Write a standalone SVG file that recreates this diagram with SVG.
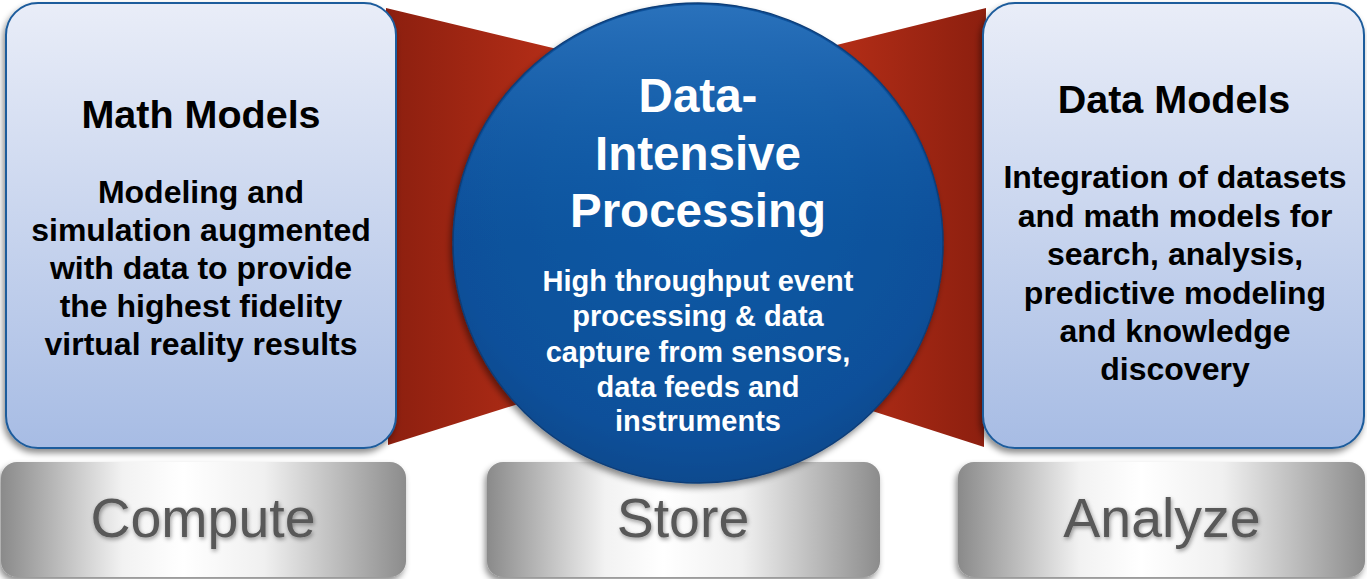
<svg xmlns="http://www.w3.org/2000/svg" width="1367" height="579" viewBox="0 0 1367 579">
<defs>
<linearGradient id="boxFill" x1="0" y1="0" x2="0" y2="1">
<stop offset="0" stop-color="#e9edf8"/>
<stop offset="1" stop-color="#a7bce4"/>
</linearGradient>
<linearGradient id="redL" x1="0" y1="0" x2="1" y2="0">
<stop offset="0" stop-color="#8c1f0f"/>
<stop offset="1" stop-color="#c3331a"/>
</linearGradient>
<linearGradient id="redR" x1="1" y1="0" x2="0" y2="0">
<stop offset="0" stop-color="#8c1f0f"/>
<stop offset="1" stop-color="#c3331a"/>
</linearGradient>
<linearGradient id="metal" x1="0" y1="0" x2="1" y2="0">
<stop offset="0" stop-color="#8a8a8a"/>
<stop offset="0.3" stop-color="#f2f2f2"/>
<stop offset="0.45" stop-color="#ffffff"/>
<stop offset="0.65" stop-color="#f0f0f0"/>
<stop offset="1" stop-color="#8c8c8c"/>
</linearGradient>
<radialGradient id="blue" cx="0.5" cy="0.4" r="0.6">
<stop offset="0" stop-color="#0b5aa6"/>
<stop offset="0.85" stop-color="#08509a"/>
<stop offset="1" stop-color="#0a4a8e"/>
</radialGradient>
<linearGradient id="rim" x1="0" y1="0" x2="0" y2="1">
<stop offset="0" stop-color="#3d86d0"/>
<stop offset="0.5" stop-color="#1563b0" stop-opacity="0"/>
</linearGradient>
<filter id="shadow" x="-10%" y="-10%" width="120%" height="120%">
<feDropShadow dx="-2" dy="4" stdDeviation="3" flood-color="#000" flood-opacity="0.45"/>
</filter>
<filter id="tshadow" x="-10%" y="-20%" width="120%" height="140%">
<feDropShadow dx="1" dy="2" stdDeviation="2" flood-color="#000" flood-opacity="0.4"/>
</filter>
</defs>
<style>
.box{fill:url(#boxFill);stroke:#1d5c9c;stroke-width:2;filter:url(#shadow)}
.title{font-family:"Liberation Sans",Arial,sans-serif;font-weight:bold;font-size:39.5px;fill:#000;text-anchor:middle}
.body{font-family:"Liberation Sans",Arial,sans-serif;font-weight:bold;font-size:32px;fill:#000;text-anchor:middle}
.ctitle{font-family:"Liberation Sans",Arial,sans-serif;font-weight:bold;font-size:47.5px;fill:#fff;text-anchor:middle}
.cbody{font-family:"Liberation Sans",Arial,sans-serif;font-weight:bold;font-size:29px;fill:#fff;text-anchor:middle}
.tab{fill:url(#metal);filter:url(#shadow)}
.tabtext{font-family:"Liberation Sans",Arial,sans-serif;font-size:55.5px;fill:#585858;text-anchor:middle;filter:url(#tshadow)}
</style>
<g id="connectors">
<polygon points="386,8 620,64 620,372 388,445" fill="url(#redL)"/>
<polygon points="986,8 776,60 776,380 984,447" fill="url(#redR)"/>
</g>
<g id="compute">
<rect class="tab" x="1" y="462" width="405" height="115" rx="16"/>
<text class="tabtext" x="203" y="537">Compute</text>
</g>
<g id="store">
<rect class="tab" x="487" y="462" width="393" height="115" rx="16"/>
<text class="tabtext" x="683" y="537">Store</text>
</g>
<g id="analyze">
<rect class="tab" x="958" y="462" width="407" height="115" rx="16"/>
<text class="tabtext" x="1162" y="537">Analyze</text>
</g>
<g id="math-models">
<rect class="box" x="6" y="3" width="390" height="445" rx="32"/>
<text class="title" x="201" y="128">Math Models</text>
<text class="body" x="201" y="203">Modeling and</text>
<text class="body" x="201" y="241">simulation augmented</text>
<text class="body" x="201" y="279">with data to provide</text>
<text class="body" x="201" y="317">the highest fidelity</text>
<text class="body" x="201" y="355">virtual reality results</text>
</g>
<g id="data-models">
<rect class="box" x="983" y="3" width="381" height="445" rx="32"/>
<text class="title" x="1174" y="113">Data Models</text>
<text class="body" x="1175" y="188">Integration of datasets</text>
<text class="body" x="1175" y="227">and math models for</text>
<text class="body" x="1175" y="265">search, analysis,</text>
<text class="body" x="1175" y="304">predictive modeling</text>
<text class="body" x="1175" y="342">and knowledge</text>
<text class="body" x="1175" y="380">discovery</text>
</g>
<g id="data-intensive-processing">
<ellipse cx="698" cy="243" rx="245" ry="240" fill="url(#blue)" stroke="#0a3d78" stroke-width="1.5" filter="url(#shadow)"/>
<ellipse cx="698" cy="243" rx="243" ry="238" fill="url(#rim)" opacity="0.6"/>
<text class="ctitle" x="698" y="112">Data-</text>
<text class="ctitle" x="698" y="170">Intensive</text>
<text class="ctitle" x="698" y="227">Processing</text>
<text class="cbody" x="698" y="291">High throughput event</text>
<text class="cbody" x="698" y="326">processing &amp; data</text>
<text class="cbody" x="698" y="362">capture from sensors,</text>
<text class="cbody" x="698" y="397">data feeds and</text>
<text class="cbody" x="698" y="431">instruments</text>
</g>
</svg>
